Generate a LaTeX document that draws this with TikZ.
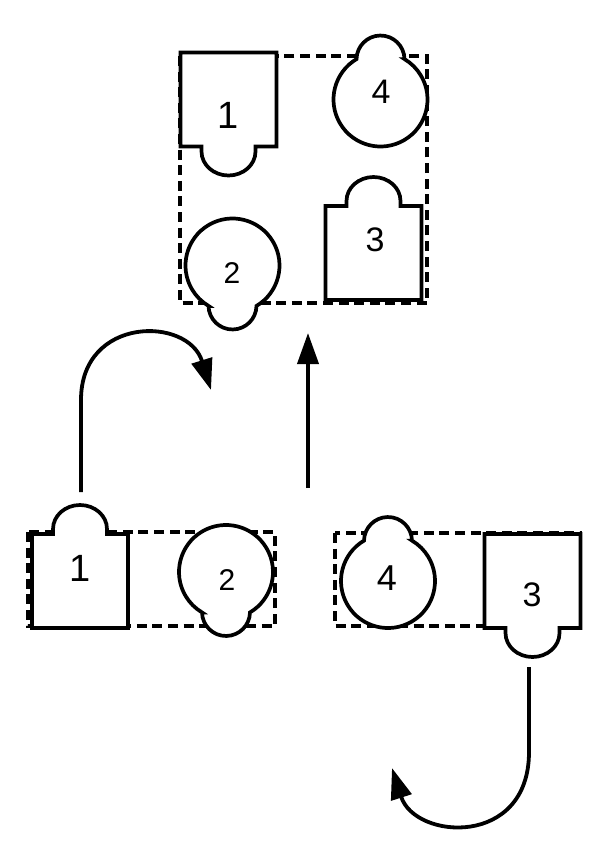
\documentclass[tikz,border=0pt]{standalone}
\usepackage{fontspec}
\setmainfont{Liberation Sans}
\usetikzlibrary{arrows.meta}
\begin{document}
\begin{tikzpicture}[x=0.5pt,y=-0.5pt,
  outline/.style={draw=black,line width=1.85pt,fill=white,line join=miter},
  dashbox/.style={draw=black,line width=2.2pt,dash pattern=on 5pt off 2.8pt},
  arrowline/.style={draw=black,line width=1.9pt,-{Triangle[length=15.5pt,width=10.5pt]}},
  lbl/.style={inner sep=0pt,font=\fontsize{#1}{#1}\selectfont},
  sqtab/.pic={\path[outline] (-48,47) -- (-48,-47) -- (-27,-47) -- (-27,-52)
      arc[start angle=180,end angle=360,x radius=27,y radius=24]
      -- (27,-47) -- (48,-47) -- (48,47) -- cycle;},
  circtab/.pic={\path[outline] (24,-40.4)
      arc[start angle=-1,end angle=-179,radius=24]
      arc[start angle=239.3,end angle=-59.3,radius=47] -- cycle;}
]
\useasboundingbox[fill=white] (0,0) rectangle (600,847);

% dashed frames
\draw[dashbox] (180,56) rectangle (427,303);
\draw[dashbox] (28,532) rectangle (275,626);
\draw[dashbox] (335,533) rectangle (580,626);

% top group
\pic[rotate=180] at (228.5,99.5) {sqtab};
\pic at (380.5,99.5) {circtab};
\pic[rotate=180] at (232.5,265.5) {circtab};
\pic at (373.5,253) {sqtab};
\node[lbl=19] (t1) at (228,115) {1};
\node[lbl=17] (t4) at (381,92) {4};
\node[lbl=15] (t2) at (232,273) {2};
\node[lbl=17] (t3) at (375,240) {3};

% bottom left group
\pic at (80,581) {sqtab};
\pic[rotate=180] at (226,572) {circtab};
\node[lbl=19] (l1) at (80,568) {1};
\node[lbl=15] (l2) at (227,580) {2};

% bottom right group
\pic at (388,581) {circtab};
\pic[rotate=180] at (532.5,581) {sqtab};
\node[lbl=18] (r4) at (387,578) {4};
\node[lbl=17] (r3) at (532,595) {3};

% arrows
\coordinate (a1s) at (81,492);
\coordinate (a1m) at (81,400);
\coordinate (a1t) at (211,390);
\draw[arrowline] (a1s) -- (a1m) .. controls (81,316) and (188,316) .. (a1t);

\coordinate (vs) at (308,488);
\coordinate (vt) at (308,333);
\draw[arrowline] (vs) -- (vt);

\coordinate (a2s) at (529,667);
\coordinate (a2m) at (529,752);
\coordinate (a2t) at (392,768);
\draw[arrowline] (a2s) -- (a2m) .. controls (529,848) and (415,840) .. (a2t);
\end{tikzpicture}
\end{document}
